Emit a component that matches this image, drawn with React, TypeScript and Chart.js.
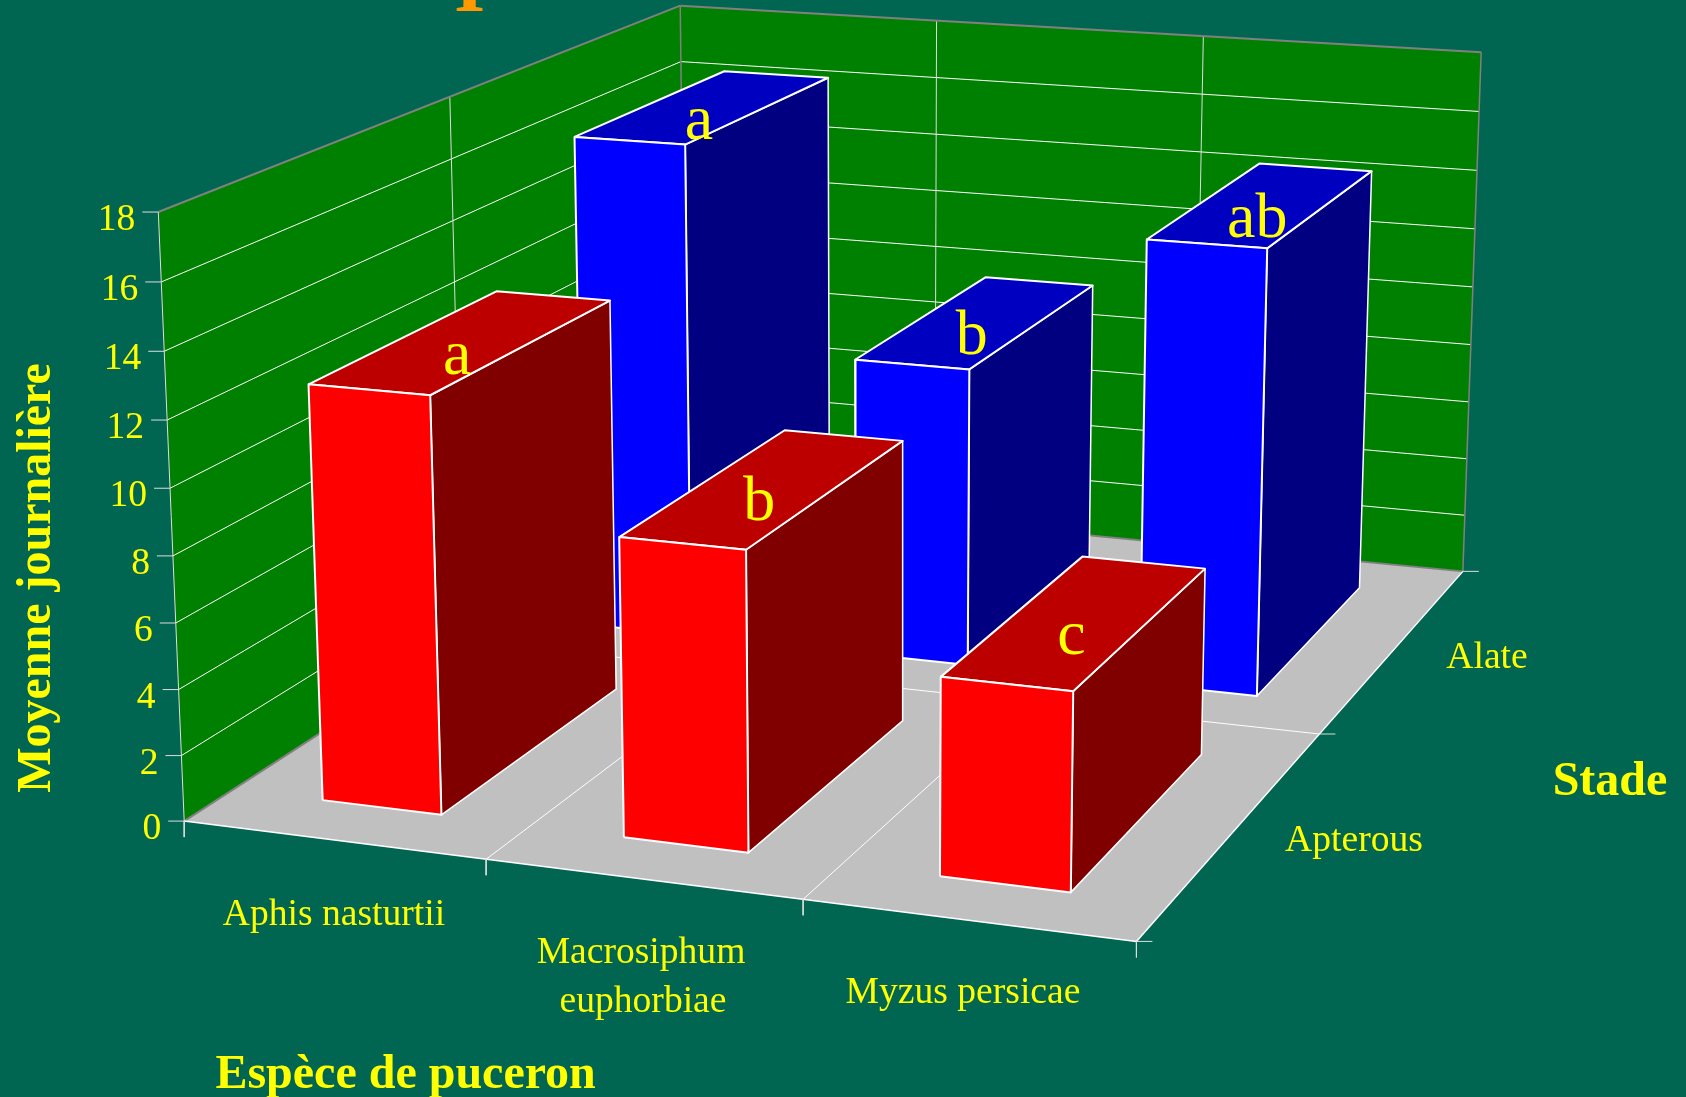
import React, { useEffect, useRef } from "react";
import { Chart, registerables } from "chart.js";

Chart.register(...registerables);

// ---------- data ----------
const species: string[][] = [["Aphis nasturtii"], ["Macrosiphum", "euphorbiae"], ["Myzus persicae"]];
const stages = ["Apterous", "Alate"];
const apterousValues = [12.58, 8.95, 5.85];
const alateValues = [16.35, 9.77, 14.37];
const apterousLetters = ["a", "b", "c"];
const alateLetters = ["a", "b", "ab"];
const valueTicks = [0, 2, 4, 6, 8, 10, 12, 14, 16, 18];

// ---------- layout ----------
const W = 1686, H = 1097;
const BG = "#006651", WALL = "#008000", FLOOR = "#C0C0C0", GREY = "#808080", YELLOW = "#FFFF00", WHITE = "#FFFFFF";
const U_MAX = species.length, V_MAX = stages.length, H_MAX = 18;
const BAR_U: [number, number] = [0.305, 0.705];
const BAR_V: [number, number] = [0.16, 0.835];
const SERIF = '"Liberation Serif", serif';

// Camera calibration: [u, v, h] of the plot box -> where it lands on the page
const calibration: number[][] = [
  [0, 0, 0, 184, 821.3], [0, 0, 18, 158.6, 212], [0, 2, 18, 681.2, 5], [3, 2, 18, 1481.7, 52.3],
  [3, 2, 0, 1463, 571], [3, 0, 0, 1137, 941], [1, 0, 0, 486.6, 859.2], [2, 0, 0, 802.7, 899.5],
  [3, 1, 0, 1318.8, 734.6], [0, 1, 18, 449, 96.5], [1, 2, 18, 936, 21.5], [2, 2, 18, 1203, 36.5],
  [0, 0, 8, 173, 555.8], [3, 2, 16, 1479, 110.8],
];

function solveCamera(): number[] {
  const n = 11;
  const A = Array.from({ length: n }, () => new Array(n + 1).fill(0));
  const add = (row: number[], rhs: number) => {
    for (let i = 0; i < n; i++) {
      for (let j = 0; j < n; j++) A[i][j] += row[i] * row[j];
      A[i][n] += row[i] * rhs;
    }
  };
  for (const [u, v, h, px, py] of calibration) {
    const x = px / 1000, y = py / 1000;
    add([u, v, h, 1, 0, 0, 0, 0, -x * u, -x * v, -x * h], x);
    add([0, 0, 0, 0, u, v, h, 1, -y * u, -y * v, -y * h], y);
  }
  for (let c = 0; c < n; c++) {
    let p = c;
    for (let r = c + 1; r < n; r++) if (Math.abs(A[r][c]) > Math.abs(A[p][c])) p = r;
    [A[c], A[p]] = [A[p], A[c]];
    for (let r = 0; r < n; r++) {
      if (r === c) continue;
      const f = A[r][c] / A[c][c];
      for (let k = c; k <= n; k++) A[r][k] -= f * A[c][k];
    }
  }
  return A.map((row, i) => row[n] / row[i]);
}
const cam = solveCamera();
type P = { x: number; y: number };
function project(u: number, v: number, h: number): P {
  const w = cam[8] * u + cam[9] * v + cam[10] * h + 1;
  return {
    x: (1000 * (cam[0] * u + cam[1] * v + cam[2] * h + cam[3])) / w,
    y: (1000 * (cam[4] * u + cam[5] * v + cam[6] * h + cam[7])) / w,
  };
}

function buildDatasets() {
  const sets: any[] = [];
  const add = (label: string, pts: P[], o: { fill?: string; stroke?: string; width?: number }) => {
    const closed = !!o.fill;
    sets.push({
      label,
      data: closed ? [...pts, pts[0]] : pts,
      showLine: true,
      pointRadius: 0,
      pointHoverRadius: 0,
      tension: 0,
      fill: closed ? "shape" : false,
      backgroundColor: o.fill ?? "transparent",
      borderColor: o.stroke ?? o.fill ?? WHITE,
      borderWidth: o.width ?? 1,
      borderJoinStyle: "round",
      order: -sets.length,
    });
  };
  const seg = (label: string, a: number[], b: number[], stroke = WHITE, width = 1) =>
    add(label, [project(a[0], a[1], a[2]), project(b[0], b[1], b[2])], { stroke, width });
  const tick = (label: string, p: P, dx: number, dy: number, stroke = "#DDDDDD") =>
    add(label, [p, { x: p.x + dx, y: p.y + dy }], { stroke, width: 1 });

  // walls and floor
  add("floor", [project(0, 0, 0), project(U_MAX, 0, 0), project(U_MAX, V_MAX, 0), project(0, V_MAX, 0)], { fill: FLOOR, width: 0 });
  add("left wall", [project(0, 0, 0), project(0, V_MAX, 0), project(0, V_MAX, H_MAX), project(0, 0, H_MAX)], { fill: WALL, width: 0 });
  add("back wall", [project(0, V_MAX, 0), project(U_MAX, V_MAX, 0), project(U_MAX, V_MAX, H_MAX), project(0, V_MAX, H_MAX)], { fill: WALL, width: 0 });

  // grid
  for (const t of valueTicks) {
    if (t === 0 || t === H_MAX) continue;
    seg(`grid left ${t}`, [0, 0, t], [0, V_MAX, t]);
    seg(`grid back ${t}`, [0, V_MAX, t], [U_MAX, V_MAX, t]);
  }
  for (let v = 1; v < V_MAX; v++) {
    seg(`grid left v${v}`, [0, v, 0], [0, v, H_MAX], "#DDDDDD");
    seg(`floor v${v}`, [0, v, 0], [U_MAX, v, 0]);
  }
  for (let u = 1; u < U_MAX; u++) {
    seg(`grid back u${u}`, [u, V_MAX, 0], [u, V_MAX, H_MAX], "#DDDDDD");
    seg(`floor u${u}`, [u, 0, 0], [u, V_MAX, 0]);
  }

  // box edges
  seg("edge top left", [0, 0, H_MAX], [0, V_MAX, H_MAX], GREY, 2);
  seg("edge top back", [0, V_MAX, H_MAX], [U_MAX, V_MAX, H_MAX], GREY, 2);
  seg("edge back corner", [0, V_MAX, 0], [0, V_MAX, H_MAX], GREY, 1.5);
  seg("edge right", [U_MAX, V_MAX, 0], [U_MAX, V_MAX, H_MAX], GREY, 1.5);
  seg("edge base left", [0, 0, 0], [0, V_MAX, 0], GREY, 2);
  seg("edge base back", [0, V_MAX, 0], [U_MAX, V_MAX, 0], GREY, 2);
  seg("edge value axis", [0, 0, 0], [0, 0, H_MAX], "#DDDDDD", 1);
  seg("edge floor front", [0, 0, 0], [U_MAX, 0, 0], WHITE, 1.5);
  seg("edge floor right", [U_MAX, 0, 0], [U_MAX, V_MAX, 0], WHITE, 1.5);

  // ticks
  for (const t of valueTicks) tick(`tick ${t}`, project(0, 0, t), -16, 0);
  for (let u = 0; u <= U_MAX; u++) tick(`tick u${u}`, project(u, 0, 0), 0, 16);
  for (let v = 0; v <= V_MAX; v++) tick(`tick v${v}`, project(U_MAX, v, 0), 16, 0);

  // bars, back row first
  const row = (values: number[], j: number, name: string, front: string, side: string, top: string) => {
    values.forEach((val, i) => {
      const u0 = i + BAR_U[0], u1 = i + BAR_U[1], v0 = j + BAR_V[0], v1 = j + BAR_V[1];
      add(`${name} ${i} side`, [project(u1, v0, 0), project(u1, v1, 0), project(u1, v1, val), project(u1, v0, val)], { fill: side, stroke: WHITE, width: 1.5 });
      add(`${name} ${i} top`, [project(u0, v0, val), project(u1, v0, val), project(u1, v1, val), project(u0, v1, val)], { fill: top, stroke: WHITE, width: 2 });
      add(`${name} ${i} front`, [project(u0, v0, 0), project(u1, v0, 0), project(u1, v0, val), project(u0, v0, val)], { fill: front, stroke: WHITE, width: 2 });
    });
  };
  row(alateValues, 1, stages[1], "#0000FF", "#000080", "#0000C0");
  row(apterousValues, 0, stages[0], "#FF0000", "#800000", "#BC0000");
  return sets;
}

const textPlugin = {
  id: "chartText",
  afterDatasetsDraw(chart: any) {
    const ctx: CanvasRenderingContext2D = chart.ctx;
    ctx.save();
    ctx.fillStyle = YELLOW;
    const put = (s: string, x: number, y: number, font: string, align: CanvasTextAlign = "center") => {
      ctx.font = font;
      ctx.textAlign = align;
      ctx.textBaseline = "alphabetic";
      ctx.fillText(s, x, y);
    };
    const normal = `37.6px ${SERIF}`;
    const bold = `bold 48px ${SERIF}`;

    // value labels
    for (const t of valueTicks) {
      const p = project(0, 0, t);
      put(String(t), p.x - 23, p.y + 18, normal, "right");
    }
    // letters on the bar tops
    const letters = (vals: number[], lets: string[], j: number) => {
      vals.forEach((val, i) => {
        const a = project(i + BAR_U[0], j + BAR_V[0], val), b = project(i + BAR_U[1], j + BAR_V[0], val);
        const c = project(i + BAR_U[1], j + BAR_V[1], val), d = project(i + BAR_U[0], j + BAR_V[1], val);
        put(lets[i], (a.x + b.x + c.x + d.x) / 4 - 4, (a.y + b.y + c.y + d.y) / 4 + 31, `64px ${SERIF}`);
      });
    };
    letters(alateValues, alateLetters, 1);
    letters(apterousValues, apterousLetters, 0);

    // category labels
    put(species[0][0], 334, 924.5, normal);
    put(species[1][0], 641, 962.5, normal);
    put(species[1][1], 643, 1011.5, normal);
    put(species[2][0], 963, 1003, normal);
    put(stages[1], 1487, 667.5, normal);
    put(stages[0], 1354, 850.5, normal);

    // axis titles
    put("Espèce de puceron", 405.6, 1088, bold);
    put("Stade", 1610, 795, bold);
    ctx.save();
    ctx.translate(49.5, 578);
    ctx.rotate(-Math.PI / 2);
    put("Moyenne journalière", 0, 0, bold);
    ctx.restore();

    // foot of the clipped title letter
    ctx.fillStyle = "#FF9900";
    put("I", 469.5, 10.5, `bold 80px ${SERIF}`);
    ctx.restore();
  },
};

export default function App() {
  const ref = useRef<HTMLCanvasElement>(null);
  useEffect(() => {
    document.documentElement.style.overflow = "hidden";
    document.body.style.margin = "0";
    document.body.style.background = BG;
    const chart = new Chart(ref.current!, {
      type: "scatter",
      data: { datasets: buildDatasets() },
      options: {
        animation: false,
        responsive: false,
        devicePixelRatio: 1,
        events: [],
        layout: { padding: 0 },
        plugins: { legend: { display: false }, title: { display: false }, tooltip: { enabled: false } },
        scales: {
          x: { type: "linear", min: 0, max: W, display: false },
          y: { type: "linear", min: 0, max: H, reverse: true, display: false },
        },
      },
      plugins: [textPlugin],
    } as any);
    return () => chart.destroy();
  }, []);
  return (
    <div style={{ width: W, height: H, background: BG }}>
      <canvas ref={ref} width={W} height={H} style={{ display: "block" }} />
    </div>
  );
}
